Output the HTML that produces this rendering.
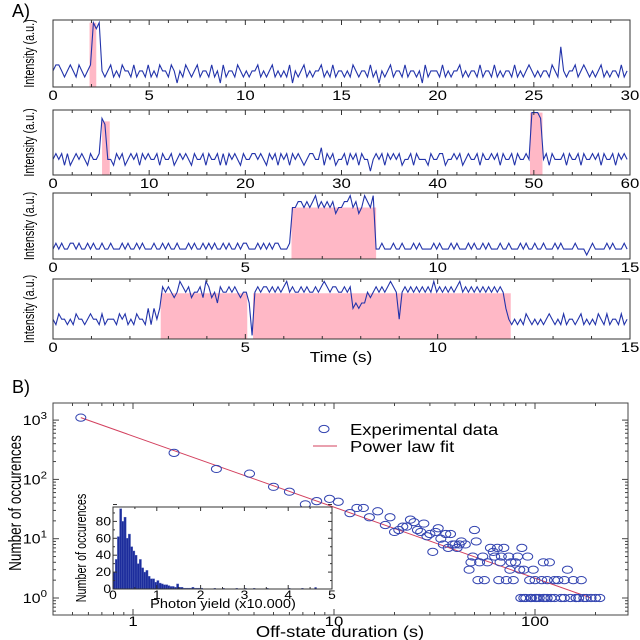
<!DOCTYPE html>
<html><head><meta charset="utf-8"><style>
body{margin:0;background:#fff;}
svg{display:block;font-family:"Liberation Sans",sans-serif;}
</style></head><body>
<svg id="fig" width="640" height="640" viewBox="0 0 640 640" xmlns="http://www.w3.org/2000/svg">
<rect width="640" height="640" fill="#fff"/>
<text x="12" y="17" font-size="18">A)</text>
<text x="12" y="393" font-size="18">B)</text>
</svg>
<script>
// ---- Panel A trace data (digit = intensity level /10, A = 10) ----
const trace1 = "2332123213"+"2123A9A212"+"3121322131"+"2213121322"+"1320213212"+"3122131203"+"1221321212"+"2312123121"+"2130212312"+"1223121312"+"2121321221"+"3120212312"+"2131221203"+"1222131212"+"2312122131"+"2213121221"+"3121232121"+"2213216212"+"2312321212"+"3121221312";
const trace2 = "2323131232"+"3213223982"+"2132312323"+"1323223132"+"2312323213"+"2231322313"+"1323213223"+"3232132313"+"2313232123"+"3224132312"+"2313231322"+"0232313232"+"3122313222"+"1322331223"+"2312322313"+"2232313223"+"132232AAA9"+"2313222313"+"2231322323"+"1322313232";
const trace3 = "1212112212"+"1121211211"+"2111212112"+"1211121121"+"2112111212"+"1121212112"+"1211212211"+"1212121221"+"1128899898"+"9A89898978"+"899A8978A9"+"8A11211121"+"1211121211"+"1121211121"+"2111212112"+"1211121121"+"1121211211"+"2111212111"+"1211101211"+"1121211121";
const trace4 = "3243323243"+"3234332423"+"3324342324"+"3325253598"+"9878A98978"+"897A978698"+"8989878860"+"8989989898"+"9A89889898"+"8989A98998"+"8989565668"+"7898989A98"+"3898989898"+"98A8989898"+"9A89898989"+"8989898532"+"3232432323"+"2343232423"+"3234232324"+"3242332423";
const traceDurations = [30, 60, 15, 15];
const onStart1 = [1.9], onEnd1 = [2.25], onLevel1 = [1.0];
const onStart2 = [5.1, 49.6], onEnd2 = [5.9, 50.9], onLevel2 = [0.85, 1.0];
const onStart3 = [6.2], onEnd3 = [8.4], onLevel3 = [0.8];
const onStart4 = [2.8, 5.2], onEnd4 = [5.05, 11.9], onLevel4 = [0.78, 0.78];
const tickLabels1 = [0,5,10,15,20,25,30];
const tickLabels2 = [0,10,20,30,40,50,60];
const tickLabels3 = [0,5,10,15];
const tickLabels4 = [0,5,10,15];

// ---- Panel B data ----
const offDur = [0.55,1.6,2.6,3.8,5,6,7.2,8.2,9.5,10.5,12,13,14,15,16.5,18,19,20,21,22,23,24,25,26,27,28,29,30,31,32,33,34,35,36,37,38,39,40,41,42,43,45,47,48,49,50,51,52,53,55,56,58,60,62,63,65,66,67,68,70,72,74,75,76,78,80,82,84,86,88,90,92,94,96,98,100,102,105,108,110,112,115,118,120,125,130,135,140,145,150,155,160,165,170,180,190,200,210,85,88,95,100,110,115,125,140,160,175];
const occurrences = [1100,280,150,125,75,62,38,43,47,42,27,33,33,23,29,17,23,13,14,16,16,21,19,14,13,18,11,12,6,13,15,10,8,12,7,12,8,8,7,8,9,8,3,4,5,14,9,2,4,5,2,4,7,6,5,7,2,4,5,7,2,5,3,4,2,4,5,3,7,3,1,5,2,1,3,2,1,1,2,4,1,2,4,1,2,2,1,2,3,1,2,1,1,2,1,1,1,1,1,1,1,1,1,1,1,1,1,1];
const fitX = [0.55, 190];
const fitY = [1100, 1];
const histCounts = [20,35,62,95,80,85,60,65,50,45,40,30,35,25,20,22,15,12,12,8,10,7,6,5,5,4,3,3,2,6,2,2,1,1,1,1,2,1,1,1,1];
const histTailX = [2.3,2.5,2.8,3.0,3.2,3.5,4.0,4.3,4.6];
const histTailY = [1,1,1,1,1,1,1,1,2];
const yTickExp = [0,1,2,3];
const xTickVals = [1,10,100];
const insetYTicks = [0,20,40,60,80];
const insetXTicks = [0,1,2,3,4,5];

const NS = "http://www.w3.org/2000/svg";
const svg = document.getElementById('fig');
function mk(tag, attrs, parent){
  const e = document.createElementNS(NS, tag);
  for (const k in attrs) e.setAttribute(k, attrs[k]);
  (parent||svg).appendChild(e);
  return e;
}
function lvl(c){ return c==='A' ? 1.0 : parseInt(c,10)/10; }
function wideText(parent, x, y, size, anchor, sx, str){
  const t = mk('text', {x: 0, y: 0, 'font-size': size, 'text-anchor': anchor, transform: `translate(${x},${y}) scale(${sx},1)`}, parent);
  t.textContent = str;
  return t;
}

const panels = [
  {tr:trace1, dur:30, top:20, bot:87, s:onStart1, e:onEnd1, l:onLevel1, ticks:tickLabels1, minor:1},
  {tr:trace2, dur:60, top:110, bot:175, s:onStart2, e:onEnd2, l:onLevel2, ticks:tickLabels2, minor:2},
  {tr:trace3, dur:15, top:193, bot:259, s:onStart3, e:onEnd3, l:onLevel3, ticks:tickLabels3, minor:1},
  {tr:trace4, dur:15, top:279, bot:339, s:onStart4, e:onEnd4, l:onLevel4, ticks:tickLabels4, minor:1}
];
const L = 53, R = 630;
panels.forEach((p, pi) => {
  const g = mk('g', {});
  
  
  const xs = t => L + (t / p.dur) * (R - L);
  const ys = v => p.bot - (0.06 + 0.9 * v) * (p.bot - p.top);
  for (let i = 0; i < p.s.length; i++) {
    const r = mk('rect', {x: xs(p.s[i]), y: ys(p.l[i]), width: xs(p.e[i]) - xs(p.s[i]), height: p.bot - ys(p.l[i]), fill: '#ffb8c6'}, g);
    
    
  }
  const n = p.tr.length;
  let d = '';
  for (let i = 0; i < n; i++) {
    const t = i * p.dur / n;
    d += (i ? 'L' : 'M') + xs(t).toFixed(1) + ',' + ys(lvl(p.tr[i])).toFixed(1);
  }
  const path = mk('path', {d: d, fill: 'none', stroke: '#2233aa', 'stroke-width': 1.1}, g);
  
  
  const fr = mk('rect', {x: L, y: p.top, width: R - L, height: p.bot - p.top, fill: 'none', stroke: '#333', 'stroke-width': 1}, g);
  
  
  for (let t = 0; t <= p.dur + 1e-9; t += p.minor) {
    const major = p.ticks.indexOf(Math.round(t)) >= 0;
    const len = major ? 5 : 3;
    mk('line', {x1: xs(t), x2: xs(t), y1: p.bot, y2: p.bot - len, stroke: '#333'}, g);
    mk('line', {x1: xs(t), x2: xs(t), y1: p.top, y2: p.top + len, stroke: '#333'}, g);
  }
  p.ticks.forEach(v => {
    const tx = wideText(g, xs(v), p.bot + 13, 14, 'middle', 1.2, String(v));
    
    
  });
  const yl = mk('text', {x: 0, y: 0, 'font-size': 15, 'text-anchor': 'middle', transform: `translate(34,${(p.top+p.bot)/2}) rotate(-90) scale(0.72,1)`}, g);
  yl.textContent = 'Intensity (a.u.)';
  
  
});
const tl = wideText(svg, 341, 362, 15, 'middle', 1.15, 'Time (s)');



// ---- Panel B ----
const BL = 53, BR = 628, BT = 403, BB = 615;
const bx = v => 133 + 201 * Math.log10(v);
const by = v => 598 - 59.3 * Math.log10(v);
const gb = mk('g', {});


const fb = mk('rect', {x: BL, y: BT, width: BR - BL, height: BB - BT, fill: 'none', stroke: '#444'}, gb);


for (let dec = -1; dec <= 2; dec++) {
  for (let m = 1; m <= 9; m++) {
    const v = m * Math.pow(10, dec);
    const x = bx(v);
    if (x < BL || x > BR) continue;
    const len = m === 1 ? 6 : 3;
    mk('line', {x1: x, x2: x, y1: BB, y2: BB - len, stroke: '#444'}, gb);
    mk('line', {x1: x, x2: x, y1: BT, y2: BT + len, stroke: '#444'}, gb);
  }
}
xTickVals.forEach(v => {
  const t = wideText(gb, bx(v), 626, 14, 'middle', 1.2, String(v));
  
  
});
for (let dec = -1; dec <= 3; dec++) {
  for (let m = 1; m <= 9; m++) {
    const v = m * Math.pow(10, dec);
    const y = by(v);
    if (y < BT || y > BB) continue;
    const len = m === 1 ? 6 : 3;
    mk('line', {x1: BL, x2: BL + len, y1: y, y2: y, stroke: '#444'}, gb);
    mk('line', {x1: BR, x2: BR - len, y1: y, y2: y, stroke: '#444'}, gb);
  }
}
yTickExp.forEach(e => {
  const t = mk('text', {x: 0, y: 0, 'font-size': 14, 'text-anchor': 'end', transform: `translate(47,${by(Math.pow(10, e)) + 5}) scale(1.15,1)`}, gb);
  t.innerHTML = '10<tspan dy="-6" font-size="10">' + e + '</tspan>';
  
  
});
const ylb = mk('text', {x: 0, y: 0, 'font-size': 18, 'text-anchor': 'middle', transform: 'translate(21,503) rotate(-90) scale(0.75,1)'}, gb);
ylb.textContent = 'Number of occurences';


const xlb = wideText(gb, 340, 637, 16, 'middle', 1.15, 'Off-state duration (s)');


const fit = mk('line', {x1: bx(fitX[0]), y1: by(fitY[0]), x2: bx(fitX[1]), y2: by(fitY[1]), stroke: '#d3405e', 'stroke-width': 1}, gb);


for (let i = 0; i < offDur.length; i++) {
  const c = mk('ellipse', {cx: bx(offDur[i]), cy: by(occurrences[i]), rx: 5, ry: 3.6, fill: 'none', stroke: '#3344b0', 'stroke-width': 1}, gb);
  
  
}
const lg = mk('g', {}, gb);


mk('ellipse', {cx: 324, cy: 429, rx: 5, ry: 3.6, fill: 'none', stroke: '#3344b0'}, lg);
const l1 = wideText(lg, 350, 435, 16, 'start', 1.15, 'Experimental data');


mk('line', {x1: 313, x2: 337, y1: 446, y2: 446, stroke: '#d3405e'}, lg);
const l2 = wideText(lg, 350, 452, 16, 'start', 1.15, 'Power law fit');



// ---- Inset histogram ----
const IL = 113, IR = 332, IT = 507, IB = 589;
const ix = v => IL + v / 5 * (IR - IL);
const iy = v => IB - v / 100 * (IB - 508 + 3.5);
const gi = mk('g', {});


mk('rect', {x: IL, y: IT, width: IR - IL, height: IB - IT, fill: '#fff'}, gi);
histCounts.forEach((c, i) => {
  const b = mk('rect', {x: ix(i * 0.05), y: iy(c), width: ix(0.05) - ix(0), height: IB - iy(c), fill: '#1c2c9c', stroke: '#5566bb', 'stroke-width': 0.4}, gi);
  
  
});
histTailX.forEach((x, i) => {
  const b = mk('rect', {x: ix(x), y: iy(histTailY[i]), width: ix(0.05) - ix(0), height: IB - iy(histTailY[i]), fill: '#1c2c9c'}, gi);
  
  
});
const fi = mk('rect', {x: IL, y: IT, width: IR - IL, height: IB - IT, fill: 'none', stroke: '#333'}, gi);


for (let v = 0; v <= 5.001; v += 0.5) {
  const len = Math.abs(v - Math.round(v)) < 1e-6 ? 4 : 2;
  mk('line', {x1: ix(v), x2: ix(v), y1: IB, y2: IB - len, stroke: '#333'}, gi);
  mk('line', {x1: ix(v), x2: ix(v), y1: IT, y2: IT + len, stroke: '#333'}, gi);
}
for (let v = 0; v <= 100; v += 10) {
  const len = v % 20 === 0 ? 4 : 2;
  mk('line', {x1: IL, x2: IL + len, y1: iy(v), y2: iy(v), stroke: '#333'}, gi);
  mk('line', {x1: IR, x2: IR - len, y1: iy(v), y2: iy(v), stroke: '#333'}, gi);
}
insetYTicks.forEach(v => {
  const t = wideText(gi, IL - 2, iy(v) + 4, 12, 'end', 1.15, String(v));
  
  
});
insetXTicks.forEach(v => {
  const t = wideText(gi, ix(v), 599, 12, 'middle', 1.15, String(v));
  
  
});
const ixl = wideText(gi, 223, 608, 13, 'middle', 1.12, 'Photon yield (x10.000)');


const iyl = mk('text', {x: 0, y: 0, 'font-size': 15, 'text-anchor': 'middle', transform: 'translate(86,548) rotate(-90) scale(0.72,1)'}, gi);
iyl.textContent = 'Number of occurences';


</script>
</body></html>
